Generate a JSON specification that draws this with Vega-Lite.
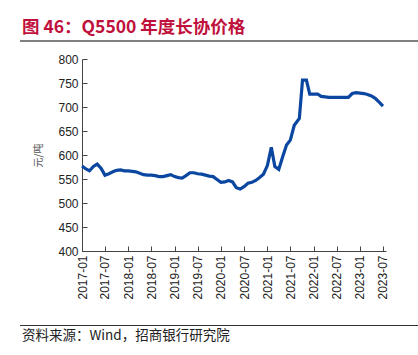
{
  "$schema": "https://vega.github.io/schema/vega-lite/v6.json",
  "padding": {"left": 20, "top": 18, "right": 0, "bottom": 0},
  "config": {"view": {"stroke": null}, "font": "Liberation Sans"},
  "spacing": 11,
  "vconcat": [
    {
      "width": 398,
      "height": 2,
      "title": {"text": "图 46：Q5500 年度长协价格", "anchor": "start", "font": "Noto Sans CJK SC", "fontSize": 17.5, "fontWeight": "bold", "color": "#C0103C", "offset": 4, "dx": 2},
      "data": {"values": [{}]},
      "mark": {"type": "rect", "color": "#808080"}
    },
    {
      "spacing": 0,
      "hconcat": [
        {
          "width": 1,
          "height": 192,
          "data": {"values": []},
          "mark": {"type": "rect"}
        },
        {
          "width": 304,
          "height": 192,
          "data": {"values": [
            {"date": "2017-01-01", "price": 577}, {"date": "2017-02-01", "price": 571}, {"date": "2017-03-01", "price": 567}, {"date": "2017-04-01", "price": 576}, {"date": "2017-05-01", "price": 581}, {"date": "2017-06-01", "price": 572}, {"date": "2017-07-01", "price": 558}, {"date": "2017-08-01", "price": 561}, {"date": "2017-09-01", "price": 565}, {"date": "2017-10-01", "price": 568}, {"date": "2017-11-01", "price": 569}, {"date": "2017-12-01", "price": 567},
            {"date": "2018-01-01", "price": 567}, {"date": "2018-02-01", "price": 566}, {"date": "2018-03-01", "price": 565}, {"date": "2018-04-01", "price": 562}, {"date": "2018-05-01", "price": 559}, {"date": "2018-06-01", "price": 558}, {"date": "2018-07-01", "price": 558}, {"date": "2018-08-01", "price": 557}, {"date": "2018-09-01", "price": 555}, {"date": "2018-10-01", "price": 555}, {"date": "2018-11-01", "price": 557}, {"date": "2018-12-01", "price": 559},
            {"date": "2019-01-01", "price": 555}, {"date": "2019-02-01", "price": 553}, {"date": "2019-03-01", "price": 552}, {"date": "2019-04-01", "price": 557}, {"date": "2019-05-01", "price": 563}, {"date": "2019-06-01", "price": 563}, {"date": "2019-07-01", "price": 561}, {"date": "2019-08-01", "price": 560}, {"date": "2019-09-01", "price": 558}, {"date": "2019-10-01", "price": 556}, {"date": "2019-11-01", "price": 555}, {"date": "2019-12-01", "price": 549},
            {"date": "2020-01-01", "price": 543}, {"date": "2020-02-01", "price": 544}, {"date": "2020-03-01", "price": 547}, {"date": "2020-04-01", "price": 544}, {"date": "2020-05-01", "price": 532}, {"date": "2020-06-01", "price": 529}, {"date": "2020-07-01", "price": 534}, {"date": "2020-08-01", "price": 541}, {"date": "2020-09-01", "price": 543}, {"date": "2020-10-01", "price": 547}, {"date": "2020-11-01", "price": 553}, {"date": "2020-12-01", "price": 560},
            {"date": "2021-01-01", "price": 578}, {"date": "2021-02-01", "price": 616}, {"date": "2021-03-01", "price": 576}, {"date": "2021-04-01", "price": 570}, {"date": "2021-05-01", "price": 596}, {"date": "2021-06-01", "price": 621}, {"date": "2021-07-01", "price": 631}, {"date": "2021-08-01", "price": 662}, {"date": "2021-09-10", "price": 676}, {"date": "2021-10-05", "price": 756}, {"date": "2021-11-05", "price": 756}, {"date": "2021-12-01", "price": 727},
            {"date": "2022-01-01", "price": 727}, {"date": "2022-02-01", "price": 727}, {"date": "2022-03-01", "price": 722}, {"date": "2022-04-01", "price": 721}, {"date": "2022-05-01", "price": 720}, {"date": "2022-06-01", "price": 720}, {"date": "2022-07-01", "price": 720}, {"date": "2022-08-01", "price": 720}, {"date": "2022-09-01", "price": 720}, {"date": "2022-10-01", "price": 720}, {"date": "2022-11-01", "price": 728}, {"date": "2022-12-01", "price": 730},
            {"date": "2023-01-01", "price": 729}, {"date": "2023-02-01", "price": 728}, {"date": "2023-03-01", "price": 726}, {"date": "2023-04-01", "price": 723}, {"date": "2023-05-01", "price": 718}, {"date": "2023-06-01", "price": 710}, {"date": "2023-07-01", "price": 702}
          ]},
          "mark": {"type": "line", "color": "#0B47A1", "strokeWidth": 3.2},
          "encoding": {
            "x": {
              "field": "date", "type": "temporal",
              "scale": {"type": "utc", "domain": [{"year": 2017, "month": 1, "date": 1, "utc": true}, {"year": 2023, "month": 7, "date": 25, "utc": true}]},
              "axis": {
                "title": null,
                "values": [
                  {"year": 2017, "month": 1, "date": 1, "utc": true}, {"year": 2017, "month": 7, "date": 1, "utc": true},
                  {"year": 2018, "month": 1, "date": 1, "utc": true}, {"year": 2018, "month": 7, "date": 1, "utc": true},
                  {"year": 2019, "month": 1, "date": 1, "utc": true}, {"year": 2019, "month": 7, "date": 1, "utc": true},
                  {"year": 2020, "month": 1, "date": 1, "utc": true}, {"year": 2020, "month": 7, "date": 1, "utc": true},
                  {"year": 2021, "month": 1, "date": 1, "utc": true}, {"year": 2021, "month": 7, "date": 1, "utc": true},
                  {"year": 2022, "month": 1, "date": 1, "utc": true}, {"year": 2022, "month": 7, "date": 1, "utc": true},
                  {"year": 2023, "month": 1, "date": 1, "utc": true}, {"year": 2023, "month": 7, "date": 1, "utc": true}
                ],
                "labelExpr": "utcFormat(datum.value, '%Y-%m')",
                "labelAngle": -90,
                "labelFont": "Liberation Sans",
                "labelFontSize": 12,
                "labelColor": "#222",
                "labelPadding": 9,
                "tickSize": -5,
                "tickColor": "#444",
                "domainColor": "#444",
                "grid": false,
                "minExtent": 63
              }
            },
            "y": {
              "field": "price", "type": "quantitative",
              "scale": {"domain": [400, 800], "nice": false, "zero": false},
              "axis": {
                "title": "元/吨",
                "values": [400, 450, 500, 550, 600, 650, 700, 750, 800],
                "labelFont": "Liberation Sans",
                "labelFontSize": 12,
                "labelColor": "#222",
                "labelPadding": 9,
                "tickSize": -5,
                "tickColor": "#444",
                "domainColor": "#444",
                "grid": false,
                "minExtent": 61,
                "titleX": -44,
                "titleY": 96,
                "titleAngle": -90,
                "titleAlign": "center",
                "titleBaseline": "middle",
                "titleFont": "Noto Sans CJK SC",
                "titleFontSize": 10,
                "titleFontWeight": "normal",
                "titleColor": "#555"
              }
            }
          }
        }
      ]
    },
    {
      "width": 398,
      "height": 1,
      "data": {"values": [{}]},
      "mark": {"type": "rect", "color": "#333333"},
      "title": {"text": "资料来源：Wind，招商银行研究院", "orient": "bottom", "anchor": "start", "font": "Noto Sans CJK SC", "fontSize": 13.5, "fontWeight": "normal", "color": "#222", "offset": 3, "dx": 2}
    }
  ]
}
